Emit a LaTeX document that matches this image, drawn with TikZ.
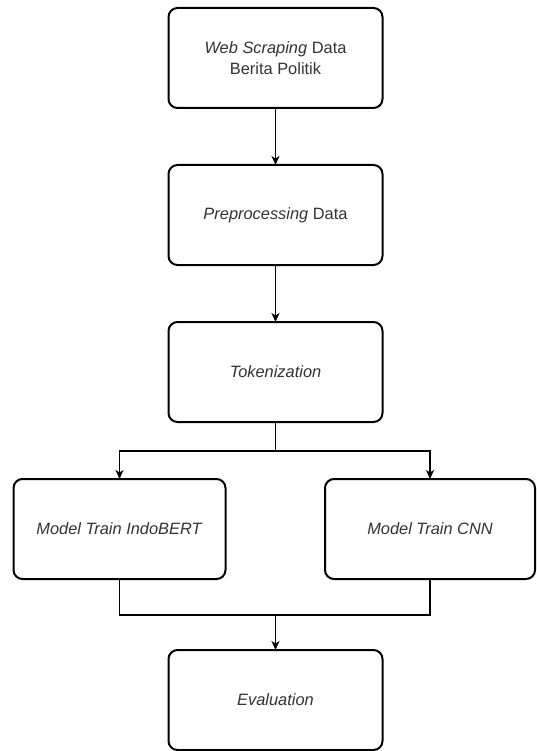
\documentclass[tikz,border=0pt]{standalone}
\usepackage{fontspec}
\setmainfont{Liberation Sans}
\usetikzlibrary{arrows.meta}
\definecolor{txt}{gray}{0.2}
\tikzset{
  stepbox/.style={draw=black, line width=2pt, rounded corners=9pt, fill=white,
    minimum width=214pt, minimum height=100pt, inner sep=0pt, outer sep=0pt,
    align=center, text=txt, font=\fontsize{16.4}{21}\selectfont},
  flow/.style={draw=black, line width=1.2pt},
  arr/.style={flow, -{Stealth[length=9pt,width=8pt,inset=2.5pt]}}
}
\begin{document}
\begin{tikzpicture}[x=1pt,y=-1pt]
  \useasboundingbox (0,0) rectangle (536,751);
  \fill[white] (0,0) rectangle (536,751);

  \node[stepbox] (scrape) at (275.5,58) {\textit{Web Scraping} Data\\Berita Politik};
  \node[stepbox] (prep) at (275.5,215) {\textit{Preprocessing} Data};
  \node[stepbox] (token) at (275.5,372) {\textit{Tokenization}};
  \node[stepbox, minimum width=212pt] (bert) at (119.5,529) {\textit{Model Train IndoBERT}};
  \node[stepbox, minimum width=210pt] (cnn) at (430,529) {\textit{Model Train CNN}};
  \node[stepbox] (eval) at (275.5,700) {\textit{Evaluation}};

  \coordinate (split) at (275.5,451);
  \coordinate (merge) at (275.5,615);

  \draw[arr] (scrape) -- (prep);
  \draw[arr] (prep) -- (token);
  \draw[flow] (token) -- (split);
  \draw[arr] (split) -| (bert);
  \draw[arr] (split) -| (cnn);
  \draw[flow] (bert) |- (merge);
  \draw[flow] (cnn) |- (merge);
  \draw[arr] (merge) -- (eval);
\end{tikzpicture}
\end{document}
